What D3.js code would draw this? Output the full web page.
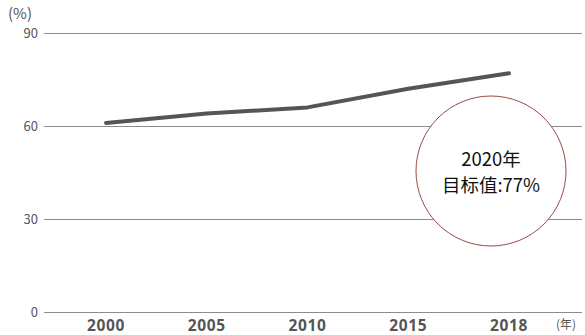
<!DOCTYPE html>
<html>
<head>
<meta charset="utf-8">
<script src="https://cdn.jsdelivr.net/npm/d3@7"></script>
<style>
	body { margin: 0; background: #fff; }
	svg { display: block; font-family: "Noto Sans CJK SC", "Noto Sans", sans-serif; }
</style>
</head>
<body>
<div id="chart"></div>
<script>
var years = ['2000', '2005', '2010', '2015', '2018'];
var rates = [61, 64, 66, 72, 77];
var yTicks = [0, 30, 60, 90];
var targetLines = ['2020年', '目标值:77%'];

var width = 585,
	height = 335,
	margin = { top: 33, left: 44, right: 3, bottom: 23 };

var svg = d3.select('#chart').append('svg')
	.attr('width', width)
	.attr('height', height);

var x = d3.scalePoint()
	.domain(years)
	.range([106, 509]);

var y = d3.scaleLinear()
	.domain([0, 90])
	.range([height - margin.bottom, margin.top]);

// gridlines + y labels
var gY = svg.append('g').attr('class', 'y-axis');
gY.selectAll('line').data(yTicks).enter().append('line')
	.attr('x1', margin.left)
	.attr('x2', width - margin.right)
	.attr('y1', function(d) { return Math.round(y(d)) + 0.5; })
	.attr('y2', function(d) { return Math.round(y(d)) + 0.5; })
	.attr('stroke', '#8c8c8c')
	.attr('stroke-width', 1);
gY.selectAll('text').data(yTicks).enter().append('text')
	.attr('x', 38)
	.attr('y', function(d) { return y(d); })
	.attr('dy', '0.36em')
	.attr('text-anchor', 'end')
	.attr('fill', '#555')
	.attr('font-size', 13)
	.text(function(d) { return d; });

svg.append('text')
	.attr('x', 8)
	.attr('y', 19)
	.attr('fill', '#555')
	.attr('font-size', 15)
	.text('(%)');

// x labels
svg.append('g').selectAll('text').data(years).enter().append('text')
	.attr('x', function(d) { return x(d); })
	.attr('y', 331)
	.attr('text-anchor', 'middle')
	.attr('fill', '#555')
	.attr('font-family', '"Noto Sans", sans-serif')
	.attr('font-size', 15.5)
	.attr('font-weight', 'bold')
	.attr('letter-spacing', 0.6)
	.text(function(d) { return d; });

svg.append('text')
	.attr('x', 556)
	.attr('y', 329)
	.attr('fill', '#555')
	.attr('font-size', 12)
	.text('(年)');

// line
var line = d3.line()
	.x(function(d, i) { return x(years[i]); })
	.y(function(d) { return y(d); });

svg.append('path')
	.datum(rates)
	.attr('d', line)
	.attr('fill', 'none')
	.attr('stroke', '#555')
	.attr('stroke-width', 4)
	.attr('stroke-linecap', 'round')
	.attr('stroke-linejoin', 'round');

// target circle
var gT = svg.append('g').attr('transform', 'translate(491,171)');
gT.append('circle')
	.attr('r', 75)
	.attr('fill', '#fff')
	.attr('stroke', '#9a4a45')
	.attr('stroke-width', 1);
gT.selectAll('text').data(targetLines).enter().append('text')
	.attr('x', 0)
	.attr('y', function(d, i) { return -5 + i * 26; })
	.attr('text-anchor', 'middle')
	.attr('fill', '#111')
	.attr('font-size', 18.5)
	.text(function(d) { return d; });
</script>
</body>
</html>
